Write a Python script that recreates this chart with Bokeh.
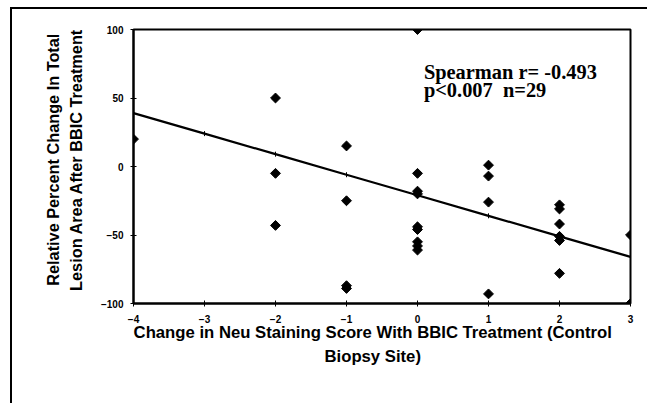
import numpy as np
from bokeh.plotting import figure
from bokeh.models import Label, FixedTicker, Range1d
from bokeh.embed import file_html
from bokeh.resources import INLINE

# Data
x_pts = [-4, -2, -2, -2, -1, -1, -1, -1,
         0, 0, 0, 0, 0, 0, 0, 0, 0,
         1, 1, 1, 1, 2, 2, 2, 2, 2, 2, 3, 3]
y_pts = [20, 50, -5, -43, 15, -25, -87, -89,
         100, -5, -18, -20, -44, -46, -55, -58, -61,
         1, -7, -26, -93, -28, -31, -42, -51, -54, -78, -50, -100]

fit_x = [-4, -3, -2, -1, 0, 1, 2, 3]
fit_y = [39, 24, 9, -6, -21, -36, -51, -66]

x_ticks = [-4, -3, -2, -1, 0, 1, 2, 3]
y_ticks = [-100, -50, 0, 50, 100]

NB = "\u00a0"
x_title = ("Change in Neu Staining Score With BBIC Treatment (Control" + NB * 4 + "\n"
           "Biopsy Site)" + NB * 4)
y_title = (NB * 3 + "Relative Percent Change In Total\n" +
           NB * 3 + "Lesion Area After BBIC Treatment")
stat_line1 = "Spearman r= -0.493"
stat_line2 = "p<0.007" + NB * 2 + "n=29"

p = figure(width=637, height=396, output_backend="svg", toolbar_location=None,
           x_range=Range1d(-4, 3), y_range=Range1d(-100, 100),
           min_border_left=121, min_border_right=19, min_border_top=20,
           min_border_bottom=102)
p.styles = {"border-left": "2px solid black", "border-top": "2px solid black",
            "margin-left": "10px", "margin-top": "7px"}

p.grid.visible = False
p.outline_line_color = "black"
p.outline_line_width = 2
p.background_fill_color = "white"
p.border_fill_color = "white"

p.line(fit_x, fit_y, line_color="black", line_width=2.2)
p.scatter(fit_x, fit_y, marker="dash", size=5, angle=np.pi / 2, line_color="black", line_width=1)
p.scatter(x_pts, y_pts, marker="square", angle=np.pi / 4, size=7,
          fill_color="black", line_color="black")

for ax in (p.xaxis[0], p.yaxis[0]):
    ax.axis_line_color = "black"
    ax.axis_line_width = 2
    ax.major_tick_in = 3
    ax.major_tick_out = 3
    ax.minor_tick_line_color = None
    ax.major_label_text_font = "Liberation Sans"
    ax.major_label_text_font_style = "bold"
    ax.major_label_text_font_size = "10px"
    ax.major_label_text_color = "black"
    ax.axis_label_text_font = "Liberation Sans"
    ax.axis_label_text_font_style = "bold"
    ax.axis_label_text_color = "black"
    ax.axis_label_text_line_height = 1.3

p.xaxis.axis_label_text_font_size = "16.7px"
p.yaxis.axis_label_text_font_size = "16.3px"
p.xaxis.ticker = FixedTicker(ticks=x_ticks)
p.yaxis.ticker = FixedTicker(ticks=y_ticks)
p.xaxis.major_label_standoff = 8
p.yaxis.major_label_standoff = 7
p.xaxis.axis_label = x_title
p.yaxis.axis_label = y_title
p.xaxis.axis_label_standoff = -3
p.yaxis.axis_label_standoff = 13

for txt, yv in ((stat_line1, 68.7), (stat_line2, 56.2)):
    p.add_layout(Label(x=0.09, y=yv, text=txt, text_font="Liberation Serif",
                       text_font_style="bold", text_font_size="20.4px",
                       text_color="black", text_baseline="alphabetic"))

open("out.html", "w").write(file_html(p, INLINE))
